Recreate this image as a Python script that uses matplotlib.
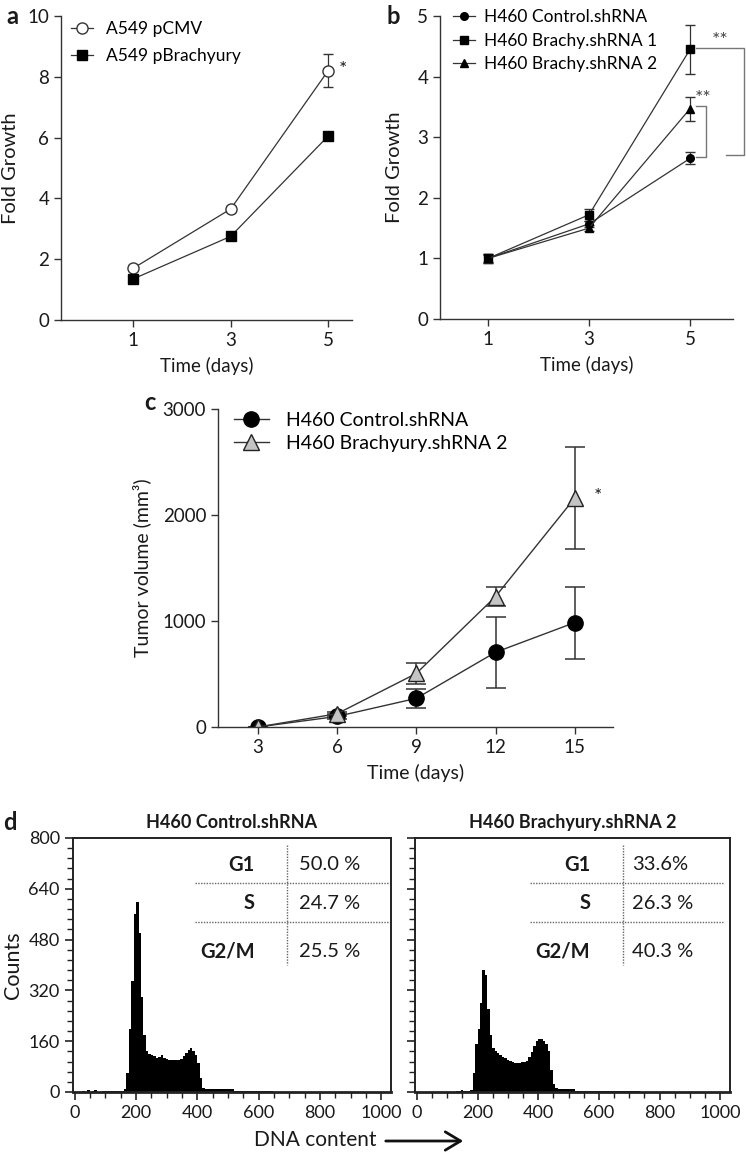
import matplotlib
matplotlib.use('Agg')
from matplotlib import pyplot as plt
from matplotlib.ticker import MultipleLocator
import numpy as np

plt.rcParams['font.family'] = ['Lato', 'DejaVu Sans']

W, H = 746, 1156

# ---- panel a: A549 growth
days_a = [1, 3, 5]
cmv = [1.7, 3.65, 8.2]
cmv_err = [0.1, 0.1, 0.55]
pbra = [1.35, 2.75, 6.05]
pbra_err = [0.08, 0.1, 0.12]

# ---- panel b: H460 growth
days_b = [1, 3, 5]
ctrl_b = [1.0, 1.57, 2.65]
ctrl_b_err = [0.08, 0.05, 0.1]
sh1_b = [1.0, 1.72, 4.45]
sh1_b_err = [0.08, 0.1, 0.4]
sh2_b = [1.0, 1.5, 3.47]
sh2_b_err = [0.06, 0.05, 0.2]

# ---- panel c: tumor volume
days_c = [3, 6, 9, 12, 15]
ctrl_c = [0, 100, 270, 705, 985]
ctrl_c_err = [0, 20, 90, 335, 340]
sh2_c = [0, 125, 505, 1230, 2160]
sh2_c_err = [0, 20, 95, 90, 480]

# ---- panel d: DNA content histograms (bins of 8 channels from 0)
bin_w = 8
counts_ctrl = [
    0, 0, 0, 4, 0, 6, 0, 4, 6, 0, 0, 3, 4, 4, 4, 4,
    4, 4, 4, 4, 8, 60, 200, 350, 560, 600, 500, 300, 180, 130, 120, 115,
    112, 108, 110, 115, 108, 105, 102, 100, 100, 100, 100, 105, 112, 122, 132, 140,
    130, 115, 90, 45, 12, 8, 8, 8, 8, 8, 8, 8, 8, 8, 8, 8,
    8, 3, 3, 3, 3, 3, 3, 3, 3, 3, 3, 3, 3, 3, 3, 3,
    3, 0, 0, 0, 0, 0, 0, 0, 0, 0, 0, 0, 0, 0, 0, 0,
    0, 0, 0, 0, 0, 0, 0, 0, 0, 0, 0, 0, 0, 0, 0, 0,
    0, 0, 0, 0, 0, 0, 0, 0, 0, 0, 0, 0, 0, 0, 0, 0,
]
counts_sh2 = [
    0, 0, 0, 0, 0, 0, 0, 0, 0, 0, 0, 0, 0, 0, 0, 0,
    3, 3, 5, 3, 3, 3, 5, 60, 150, 200, 280, 385, 370, 260, 180, 140,
    130, 122, 115, 110, 106, 102, 98, 95, 92, 90, 92, 96, 94, 98, 110, 125,
    145, 162, 168, 168, 160, 150, 130, 70, 25, 12, 8, 8, 8, 8, 8, 8,
    8, 3, 3, 3, 3, 3, 3, 3, 3, 3, 3, 3, 3, 3, 3, 3,
    3, 3, 3, 3, 3, 3, 3, 3, 3, 3, 3, 3, 0, 0, 0, 0,
    0, 0, 0, 0, 0, 0, 0, 0, 0, 0, 0, 0, 0, 0, 0, 0,
    0, 0, 0, 0, 0, 0, 0, 0, 0, 0, 0, 0, 0, 0, 0, 0,
]
phases = ['G1', 'S', 'G2/M']
pct_ctrl = ['50.0 %', '24.7 %', '25.5 %']
pct_sh2 = ['33.6%', '26.3 %', '40.3 %']

AX = '#333333'
TXT = '#1a1a1a'


def rect(l, t, r, b):
    return [l / W, 1 - b / H, (r - l) / W, (b - t) / H]


def ftext(x, y, s, **kw):
    fig.text(x / W, 1 - y / H, s, **kw)


def style(ax, size=13.5):
    ax.spines['top'].set_visible(False)
    ax.spines['right'].set_visible(False)
    for s in ['left', 'bottom']:
        ax.spines[s].set_color(AX)
        ax.spines[s].set_linewidth(1.0)
    ax.tick_params(direction='out', length=5, width=1, color=AX,
                   labelsize=size, labelcolor=TXT)


fig = plt.figure(figsize=(W / 100, H / 100), dpi=100)

# ---------------- a
axA = fig.add_axes(rect(61, 16, 352, 320))
style(axA)
axA.errorbar(days_a, cmv, yerr=cmv_err, fmt='none', ecolor=AX, elinewidth=0.9, capsize=3.5)
axA.errorbar(days_a, pbra, yerr=pbra_err, fmt='none', ecolor=AX, elinewidth=0.9, capsize=3.5)
axA.plot(days_a, cmv, '-o', color=AX, lw=0.9, mfc='white', mec=AX, ms=8, label='A549 pCMV')
axA.plot(days_a, pbra, '-s', color=AX, lw=0.9, mfc='black', mec='black', ms=6.5, label='A549 pBrachyury')
axA.text(5.31, 8.25, '*', fontsize=14, ha='center', va='center', color=TXT)
axA.set_xlim(-0.48, 5.49)
axA.set_ylim(0, 10)
axA.set_xticks(days_a)
axA.set_yticks([0, 2, 4, 6, 8, 10])
axA.set_ylabel('Fold Growth', fontsize=14.5, color=TXT)
axA.yaxis.set_label_coords(-0.145, 0.5)
axA.set_xlabel('Time (days)', fontsize=13.5, color=TXT, labelpad=6)
axA.legend(loc='upper left', bbox_to_anchor=(0.01, 1.005), frameon=False, fontsize=12.5,
           handlelength=1.3, handletextpad=0.7, labelspacing=0.6, borderaxespad=0)

# ---------------- b
axB = fig.add_axes(rect(440, 16, 733, 319))
style(axB)
for y, e in [(ctrl_b, ctrl_b_err), (sh1_b, sh1_b_err), (sh2_b, sh2_b_err)]:
    axB.errorbar(days_b, y, yerr=e, fmt='none', ecolor=AX, elinewidth=0.9, capsize=3.5)
axB.plot(days_b, ctrl_b, '-o', color=AX, lw=0.9, mfc='black', mec='black', ms=5.5, label='H460 Control.shRNA')
axB.plot(days_b, sh1_b, '-s', color=AX, lw=0.9, mfc='black', mec='black', ms=6, label='H460 Brachy.shRNA 1')
axB.plot(days_b, sh2_b, '-^', color=AX, lw=0.9, mfc='black', mec='black', ms=5.5, label='H460 Brachy.shRNA 2')
br = dict(color='#777777', lw=1.0, clip_on=False)
axB.plot([5.12, 6.07, 6.07, 5.71], [4.47, 4.47, 2.7, 2.7], **br)
axB.plot([5.12, 5.32, 5.32, 5.12], [3.51, 3.51, 2.67, 2.67], **br)
axB.text(5.59, 4.6, '**', fontsize=14, ha='center', va='center', color='#444444')
axB.text(5.26, 3.64, '**', fontsize=14, ha='center', va='center', color='#444444')
axB.set_xlim(0.05, 5.85)
axB.set_ylim(0, 5)
axB.set_xticks(days_b)
axB.set_yticks([0, 1, 2, 3, 4, 5])
axB.set_ylabel('Fold Growth', fontsize=14.5, color=TXT, labelpad=10)
axB.set_xlabel('Time (days)', fontsize=13.5, color=TXT, labelpad=6)
axB.legend(loc='upper left', bbox_to_anchor=(0.02, 1.045), frameon=False, fontsize=12.5,
           handlelength=1.3, handletextpad=0.5, labelspacing=0.42, borderaxespad=0)

# ---------------- c
axC = fig.add_axes(rect(218, 409, 613, 727))
style(axC)
axC.errorbar(days_c, ctrl_c, yerr=ctrl_c_err, fmt='none', ecolor=AX, elinewidth=1.1, capsize=7, capthick=1.1)
axC.errorbar(days_c, sh2_c, yerr=sh2_c_err, fmt='none', ecolor=AX, elinewidth=1.1, capsize=7, capthick=1.1)
axC.plot(days_c, ctrl_c, '-o', color=AX, lw=1.0, mfc='black', mec='black', ms=11, label='H460 Control.shRNA')
axC.plot(days_c, sh2_c, '-^', color=AX, lw=1.0, mfc='#c4c4c4', mec='#222222', ms=11, label='H460 Brachyury.shRNA 2')
axC.text(15.88, 2170, '*', fontsize=14, ha='center', va='center', color=TXT)
axC.set_xlim(1.49, 16.45)
axC.set_ylim(0, 3000)
axC.set_xticks(days_c)
axC.set_yticks([0, 1000, 2000, 3000])
axC.set_ylabel('Tumor volume (mm³)', fontsize=14, color=TXT, labelpad=8)
axC.set_xlabel('Time (days)', fontsize=14, color=TXT, labelpad=6)
axC.legend(loc='upper left', bbox_to_anchor=(0.02, 1.015), frameon=False, fontsize=14,
           handlelength=1.8, handletextpad=0.9, labelspacing=0.3, borderaxespad=0)

# ---------------- d
edges = np.arange(0, bin_w * len(counts_ctrl) + 1, bin_w)


def hist_panel(box, counts, title, pct, lab_x, line_x0, vline_x, val_x, line_x1, ylabels):
    ax = fig.add_axes(rect(*box))
    ax.stairs(counts, edges, fill=True, color='black', lw=0)
    ax.set_xlim(-6, 1032)
    ax.set_ylim(0, 800)
    for s in ax.spines.values():
        s.set_color('#222222')
        s.set_linewidth(1.4)
    ax.spines['bottom'].set_linewidth(2.0)
    ax.xaxis.set_major_locator(MultipleLocator(200))
    ax.xaxis.set_minor_locator(MultipleLocator(50))
    ax.yaxis.set_major_locator(MultipleLocator(160))
    ax.yaxis.set_minor_locator(MultipleLocator(32))
    ax.tick_params(which='major', direction='out', length=6, width=1.2, color='#222222',
                   labelsize=13, labelcolor=TXT)
    ax.tick_params(which='minor', direction='out', length=4, width=1.0, color='#222222')
    if not ylabels:
        ax.set_yticklabels([])
    ax.set_title(title, fontsize=13, fontweight='bold', color=TXT, pad=7)
    rows = [0.894, 0.744, 0.555]
    for y, ph, v in zip(rows, phases, pct):
        ax.text(lab_x, y, ph, transform=ax.transAxes, ha='right', va='center',
                fontsize=14.5, fontweight='bold', color=TXT)
        ax.text(val_x, y, v, transform=ax.transAxes, ha='left', va='center',
                fontsize=14.5, color=TXT)
    dot = dict(color='#666666', lw=1.0, ls=(0, (1, 1)), transform=ax.transAxes)
    for y in [0.823, 0.669]:
        ax.plot([line_x0, line_x1], [y, y], **dot)
    ax.plot([vline_x, vline_x], [0.972, 0.5], **dot)
    return ax


axD1 = hist_panel((73, 838, 391, 1092), counts_ctrl, 'H460 Control.shRNA', pct_ctrl,
                  0.572, 0.384, 0.673, 0.71, 1.0, True)
axD1.set_ylabel('Counts', fontsize=15.5, color=TXT, labelpad=4)
axD2 = hist_panel((415, 838, 730, 1092), counts_sh2, 'H460 Brachyury.shRNA 2', pct_sh2,
                  0.556, 0.365, 0.660, 0.69, 0.978, False)

# panel letters
for x, y, s in [(12, 16, 'a'), (393, 16, 'b'), (150, 402, 'c'), (10, 822, 'd')]:
    ftext(x, y, s, fontsize=17, fontweight='bold', ha='center', va='center', color=TXT)

ftext(376, 1140, 'DNA content', fontsize=15, ha='right', va='center', color=TXT)
fig.add_artist(matplotlib.patches.FancyArrowPatch(
    (383 / W, 1 - 1141 / H), (466 / W, 1 - 1141 / H), transform=fig.transFigure,
    arrowstyle='->,head_length=5,head_width=3', lw=2.0, color='#111111',
    mutation_scale=2.2))

fig.savefig('out.png', dpi=100)
